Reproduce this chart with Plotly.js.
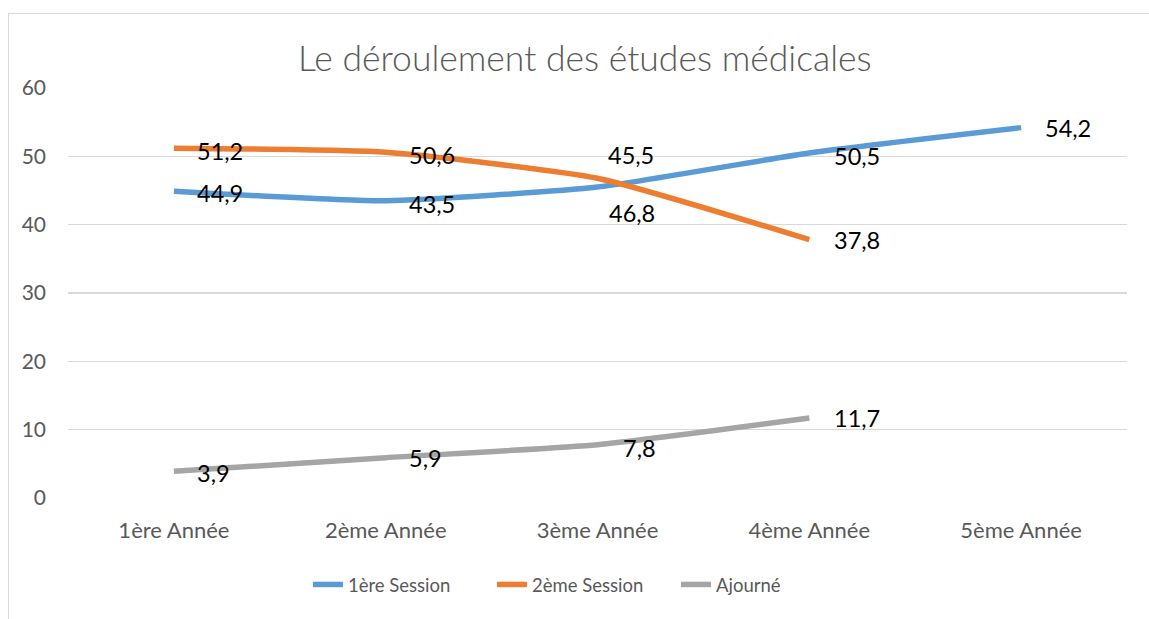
<!DOCTYPE html>
<html>
<head>
<meta charset="utf-8">
<script src="https://cdn.plot.ly/plotly-3.0.1.min.js"></script>
<style>
  html, body { margin: 0; padding: 0; background: #fff; overflow: hidden; }
  #chart { position: absolute; left: 0; top: 0; width: 1149px; height: 619px; }
  #frame { position: absolute; left: 8px; top: 13px; width: 1300px; height: 800px;
           border-left: 1.5px solid #d9d9d9; border-top: 1.5px solid #d9d9d9; pointer-events: none; }
</style>
</head>
<body>
<div id="chart"></div>
<div id="frame"></div>
<script>
// ---- data ----
const categories = ["1ère Année", "2ème Année", "3ème Année", "4ème Année", "5ème Année"];
const session1 = [44.9, 43.5, 45.5, 50.5, 54.2];
const session2 = [51.2, 50.6, 46.8, 37.8, null];
const ajourne = [3.9, 5.9, 7.8, 11.7, null];
const seriesNames = ["1ère Session", "2ème Session", "Ajourné"];
const yTicks = [0, 10, 20, 30, 40, 50, 60];

// ---- styles ----
const colors = ["#5B9BD5", "#ED7D31", "#A5A5A5"];
const font = "Lato, 'Open Sans', sans-serif";
// label offsets (px) per series per category [xshift, yshift]
const labelOffsets = [
  [[21, -2], [21, -3], [8, 32], [23, -3], [22, 0]],
  [[21, -3], [21, -3], [9, -35], [23, 0], [0, 0]],
  [[21, -2], [21, 0], [23, -3], [23, 0], [0, 0]]
];

const allSeries = [session1, session2, ajourne];
const traces = allSeries.map((vals, i) => ({
  type: "scatter",
  mode: "lines",
  x: categories,
  y: vals,
  name: seriesNames[i],
  line: { color: colors[i], width: 5.5, shape: "spline", smoothing: 0.5 },
  hoverinfo: "skip"
}));

const annotations = [];
allSeries.forEach((vals, i) => {
  vals.forEach((v, j) => {
    if (v === null) return;
    annotations.push({
      x: categories[j], y: v, xref: "x", yref: "y",
      text: v.toFixed(1).replace(".", ","),
      showarrow: false, xanchor: "left", yanchor: "middle",
      xshift: labelOffsets[i][j][0], yshift: labelOffsets[i][j][1],
      font: { family: font, size: 23.5, color: "#000000" }
    });
  });
});

const layout = {
  width: 1149, height: 619,
  margin: { l: 68, r: 22, t: 88, b: 121 },
  paper_bgcolor: "rgba(0,0,0,0)",
  plot_bgcolor: "#ffffff",
  title: {
    text: "Le déroulement des études médicales",
    font: { family: font, size: 35.5, color: "#595959", weight: 300 },
    xref: "container", yref: "container",
    x: 0.509, y: 0.906, xanchor: "center", yanchor: "middle"
  },
  xaxis: {
    type: "category",
    range: [-0.5, 4.5],
    showgrid: false, zeroline: false, showline: false,
    ticks: "", ticklabelstandoff: 17,
    tickfont: { family: font, size: 22, color: "#595959" },
    fixedrange: true
  },
  yaxis: {
    range: [0, 60],
    tickvals: yTicks,
    showgrid: true, gridcolor: "#d9d9d9", gridwidth: 1.3,
    zeroline: false, showline: false,
    ticks: "", ticklabelstandoff: 21,
    tickfont: { family: font, size: 21, color: "#595959" },
    fixedrange: true
  },
  showlegend: true,
  legend: {
    orientation: "h",
    x: 0.2266, y: -0.212, xanchor: "left", yanchor: "middle",
    font: { family: font, size: 18.5, color: "#595959" },
    itemwidth: 30,
    entrywidth: 139, entrywidthmode: "pixels"
  },
  annotations: annotations
};

Plotly.newPlot("chart", traces, layout, { staticPlot: true, displayModeBar: false });
</script>
</body>
</html>
